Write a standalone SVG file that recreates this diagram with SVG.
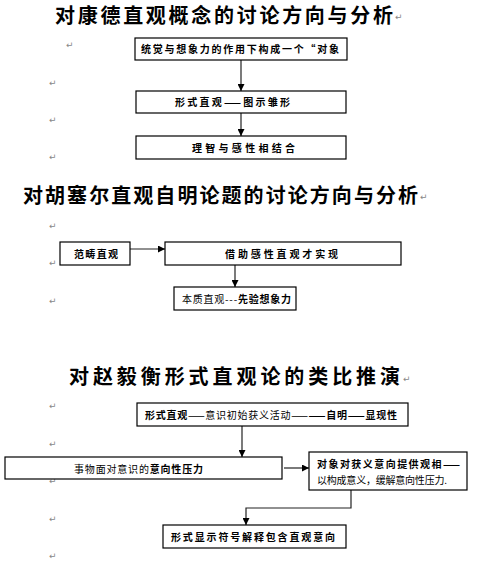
<svg xmlns="http://www.w3.org/2000/svg" width="478" height="563" viewBox="0 0 478 563">
<style>
.t{font-family:"Noto Sans CJK SC","Noto Sans",sans-serif;font-weight:bold;font-size:20px;fill:#000}
.b{fill:#fff;stroke:#000;stroke-width:1.2}
.n{font-family:"Noto Sans CJK SC","Noto Sans",sans-serif;font-size:10px;fill:#000}
.bd{font-weight:bold}
.rm{font-family:"DejaVu Sans",sans-serif;font-size:9px;fill:#888}
.c{stroke:#222;stroke-width:1.2;fill:none}
</style>
<defs>
<marker id="ah" viewBox="0 0 8 8" refX="8" refY="4" markerWidth="7" markerHeight="7" orient="auto" markerUnits="userSpaceOnUse">
<path d="M0,0 L8,4 L0,8 z" fill="#000"/>
</marker>
</defs>

<!-- titles -->
<text class="t" x="55" y="23" textLength="338" lengthAdjust="spacing">对康德直观概念的讨论方向与分析</text>
<text class="t" x="23" y="203" textLength="395" lengthAdjust="spacing">对胡塞尔直观自明论题的讨论方向与分析</text>
<text class="t" x="69" y="384" textLength="331" lengthAdjust="spacing">对赵毅衡形式直观论的类比推演</text>

<!-- return marks -->
<g id="marks">
<text class="rm" x="395" y="20">↵</text>
<text class="rm" x="66" y="48">↵</text>
<text class="rm" x="49" y="86">↵</text>
<text class="rm" x="49" y="123">↵</text>
<text class="rm" x="49" y="160">↵</text>
<text class="rm" x="420" y="200">↵</text>
<text class="rm" x="49" y="229">↵</text>
<text class="rm" x="49" y="266">↵</text>
<text class="rm" x="49" y="304">↵</text>
<text class="rm" x="403" y="382">↵</text>
<text class="rm" x="49" y="409">↵</text>
<text class="rm" x="49" y="447">↵</text>
<text class="rm" x="49" y="484">↵</text>
<text class="rm" x="49" y="522">↵</text>
<text class="rm" x="49" y="559">↵</text>
</g>

<!-- connectors -->
<g id="connectors">
<line class="c" x1="241" y1="60" x2="241" y2="91" marker-end="url(#ah)"/>
<line class="c" x1="241" y1="113" x2="241" y2="136" marker-end="url(#ah)"/>
<line class="c" x1="130" y1="249" x2="165" y2="249" marker-end="url(#ah)"/>
<line class="c" x1="235" y1="265" x2="235" y2="287" marker-end="url(#ah)"/>
<line class="c" x1="242" y1="426" x2="242" y2="457" marker-end="url(#ah)"/>
<line class="c" x1="284" y1="468" x2="309" y2="468" marker-end="url(#ah)"/>
<polyline class="c" points="351,490 351,508 246,508 246,525" marker-end="url(#ah)"/>
</g>

<!-- Kant -->
<g id="k1"><rect class="b" x="135" y="38" width="212" height="22"/>
<text class="n bd" x="141" y="53" textLength="198" lengthAdjust="spacing">统觉与想象力的作用下构成一个“对象</text></g>
<g id="k2"><rect class="b" x="136" y="91" width="210" height="22"/>
<text class="n bd" x="175" y="106" textLength="115" lengthAdjust="spacing">形式直观——图示雏形</text></g>
<g id="k3"><rect class="b" x="136" y="136" width="210" height="23"/>
<text class="n bd" x="192" y="152" textLength="103" lengthAdjust="spacing">理智与感性相结合</text></g>

<!-- Husserl -->
<g id="h1"><rect class="b" x="60" y="242" width="70" height="23"/>
<text class="n bd" x="74" y="258" textLength="44" lengthAdjust="spacing">范畴直观</text></g>
<g id="h2"><rect class="b" x="165" y="242" width="236" height="23"/>
<text class="n bd" x="225" y="258" textLength="113" lengthAdjust="spacing">借助感性直观才实现</text></g>
<g id="h3"><rect class="b" x="174" y="287" width="122" height="23"/>
<text class="n" x="182" y="303" textLength="109" lengthAdjust="spacing">本质直观---<tspan class="bd">先验想象力</tspan></text></g>

<!-- Zhao -->
<g id="z1"><rect class="b" x="137" y="403" width="271" height="23"/>
<text class="n" x="145" y="419" textLength="252" lengthAdjust="spacing"><tspan class="bd">形式直观</tspan>——意识初始获义活动——<tspan class="bd">——自明——显现性</tspan></text></g>
<g id="z2"><rect class="b" x="5" y="457" width="277" height="22"/>
<text class="n" x="74" y="473" textLength="129" lengthAdjust="spacing">事物面对意识的<tspan class="bd">意向性压力</tspan></text></g>
<g id="z3"><rect class="b" x="309" y="452" width="158" height="38"/>
<text class="n bd" x="317" y="468" textLength="143" lengthAdjust="spacing">对象对获义意向提供观相——</text>
<text class="n" x="317" y="484" textLength="130" lengthAdjust="spacing">以构成意义，缓解意向性压力.</text></g>
<g id="z4"><rect class="b" x="163" y="525" width="183" height="23"/>
<text class="n bd" x="171" y="541" textLength="164" lengthAdjust="spacing">形式显示符号解释包含直观意向</text></g>
</svg>
